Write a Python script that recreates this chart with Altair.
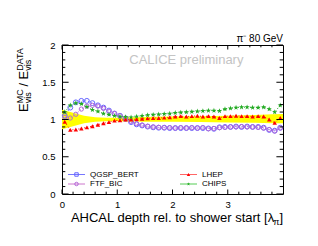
import altair as alt
import pandas as pd

FONT = "Liberation Sans"

# ---------------- data ----------------
x_pos = [0.05, 0.15, 0.25, 0.35, 0.45, 0.55, 0.65, 0.75, 0.85, 0.95,
         1.05, 1.15, 1.25, 1.35, 1.45, 1.55, 1.65, 1.75, 1.85, 1.95,
         2.05, 2.15, 2.25, 2.35, 2.45, 2.55, 2.65, 2.75, 2.85, 2.95,
         3.05, 3.15, 3.25, 3.35, 3.45, 3.55, 3.65, 3.75, 3.85, 3.95]

qgsp_bert = [1.05, 1.16, 1.23, 1.25, 1.25, 1.22, 1.19, 1.16, 1.12, 1.08,
             1.05, 1.01, 0.965, 0.935, 0.92, 0.905, 0.895, 0.89, 0.89, 0.885,
             0.885, 0.885, 0.885, 0.885, 0.885, 0.885, 0.88, 0.875, 0.895, 0.90,
             0.90, 0.905, 0.90, 0.905, 0.90, 0.90, 0.89, 0.86, 0.85, 0.89]

ftf_bic = [1.03, 1.02, 1.07, 1.14, 1.18, 1.19, 1.18, 1.15, 1.11, 1.08,
           1.05, 1.02, 0.975, 0.945, 0.925, 0.91, 0.90, 0.895, 0.89, 0.89,
           0.885, 0.89, 0.885, 0.89, 0.885, 0.89, 0.875, 0.88, 0.89, 0.895,
           0.90, 0.90, 0.905, 0.90, 0.90, 0.895, 0.885, 0.865, 0.845, 0.885]

lhep = [0.97, 0.86, 0.865, 0.88, 0.895, 0.91, 0.93, 0.95, 0.965, 0.985,
        0.99, 1.00, 1.00, 1.005, 1.01, 1.015, 1.02, 1.02, 1.025, 1.03,
        1.04, 1.045, 1.04, 1.045, 1.05, 1.04, 1.045, 1.04, 1.02, 1.045,
        1.045, 1.05, 1.045, 1.045, 1.04, 1.045, 1.04, 1.00, 0.955, 1.02]

chips = [1.10, 1.19, 1.22, 1.21, 1.17, 1.13, 1.11, 1.08, 1.065, 1.05,
         1.04, 1.035, 1.03, 1.04, 1.05, 1.06, 1.065, 1.07, 1.075, 1.08,
         1.09, 1.095, 1.10, 1.105, 1.11, 1.115, 1.12, 1.12, 1.115, 1.14,
         1.15, 1.16, 1.165, 1.165, 1.16, 1.16, 1.165, 1.14, 1.10, 1.19]

band_x = [0.0, 0.1, 0.2, 0.3, 0.4, 0.5, 0.6, 0.8, 1.0, 1.5, 2.0, 2.5, 3.0, 3.5, 3.8, 4.0]
band_hi = [1.13, 1.11, 1.09, 1.07, 1.05, 1.04, 1.03, 1.025, 1.025, 1.035, 1.04, 1.045, 1.05, 1.06, 1.07, 1.075]
band_lo = [0.87, 0.89, 0.91, 0.93, 0.95, 0.96, 0.97, 0.975, 0.975, 0.97, 0.97, 0.965, 0.96, 0.955, 0.95, 0.95]

series_names = ["QGSP_BERT", "FTF_BIC", "LHEP", "CHIPS"]
series_values = [qgsp_bert, ftf_bic, lhep, chips]
marker_colors = ["#6666ff", "#b266d9", "#ff0000", "#22aa22"]
legend_line_colors = ["#7777ff", "#cc77cc", "#ff6666", "#55cc55"]

x_major = [0, 1, 2, 3]
x_minor = [0.2, 0.4, 0.6, 0.8, 1.2, 1.4, 1.6, 1.8, 2.2, 2.4, 2.6, 2.8, 3.2, 3.4, 3.6, 3.8]
y_major = [0, 0.5, 1, 1.5, 2]
y_minor = [0.1, 0.2, 0.3, 0.4, 0.6, 0.7, 0.8, 0.9, 1.1, 1.2, 1.3, 1.4, 1.6, 1.7, 1.8, 1.9]

# ---------------- layout ----------------
W, H = 221, 149
STAR = ("M0,-1L0.235,-0.324L0.951,-0.309L0.38,0.124L0.588,0.809L0,0.4"
        "L-0.588,0.809L-0.38,0.124L-0.951,-0.309L-0.235,-0.324Z")

xscale = alt.Scale(domain=[0, 4], nice=False, zero=False)
yscale = alt.Scale(domain=[0, 2], nice=False, zero=False)
xaxis = alt.Axis(values=x_major, format="~g", title=None, ticks=False, tickSize=0,
                 domain=False, grid=False, labelPadding=5, labelFontSize=9.5,
                 labelFont=FONT, labelColor="black", labelFlush=False, labelOverlap=False)
yaxis = alt.Axis(values=y_major, format="~g", title=None, ticks=False, tickSize=0,
                 domain=False, grid=False, labelPadding=7, labelFontSize=9.5,
                 labelFont=FONT, labelColor="black", labelFlush=False, labelOverlap=False)


def X(field="x"):
    return alt.X(f"{field}:Q", scale=xscale, axis=xaxis)


def Y(field="y"):
    return alt.Y(f"{field}:Q", scale=yscale, axis=yaxis)


layers = []

band_df = pd.DataFrame({"x": band_x, "lo": band_lo, "hi": band_hi})
layers.append(alt.Chart(band_df).mark_area(color="#ffff00", opacity=1)
              .encode(x=X(), y=Y("lo"), y2="hi:Q"))

shapes = ["circle", "circle", "triangle-up", STAR]
filled = [False, False, True, True]
sizes = [24, 18, 20, 30]
for name, vals, col, shp, fl, sz in zip(series_names, series_values, marker_colors, shapes, filled, sizes):
    df = pd.DataFrame({"x": x_pos, "y": vals, "s": name})
    base = alt.Chart(df).encode(x=X(), y=Y())
    layers.append(base.mark_line(color=col, strokeWidth=1, strokeDash=[1, 2]))
    if fl:
        layers.append(base.mark_point(shape=shp, filled=True, size=sz, color=col, opacity=1))
    else:
        layers.append(base.mark_point(shape=shp, filled=False, size=sz, color=col,
                                      strokeWidth=1, opacity=1))

# ---------------- ticks (ROOT style, inside the frame) ----------------
def tick_layer(vals, orient, length):
    if orient in ("left", "right"):
        df = pd.DataFrame({"y": vals})
        x0 = 0 if orient == "left" else W - length
        return alt.Chart(df).mark_rule(color="black", strokeWidth=1).encode(
            y=Y(), x=alt.value(x0), x2=alt.value(x0 + length))
    df = pd.DataFrame({"x": vals})
    y0 = H if orient == "bottom" else 0
    y1 = H - length if orient == "bottom" else length
    return alt.Chart(df).mark_rule(color="black", strokeWidth=1).encode(
        x=X(), y=alt.value(y0), y2=alt.value(y1))


for o in ("left", "right"):
    layers.append(tick_layer(y_major, o, 6.6))
    layers.append(tick_layer(y_minor, o, 3.3))
for o in ("bottom", "top"):
    layers.append(tick_layer(x_major, o, 4.5))
    layers.append(tick_layer(x_minor, o, 2.3))

# ---------------- legend ----------------
leg_pos = [(6, 129.5), (6, 139), (118, 129.5), (118, 139)]
leg_shapes = ["square", "circle", "triangle-up", STAR]
for name, lc, mc, shp, fl, (lx, ly) in zip(series_names, legend_line_colors, marker_colors,
                                           leg_shapes, filled, leg_pos):
    d = pd.DataFrame({"t": [name]})
    layers.append(alt.Chart(d).mark_rule(color=lc, strokeWidth=1).encode(
        x=alt.value(lx), x2=alt.value(lx + 17), y=alt.value(ly)))
    layers.append(alt.Chart(d).mark_point(shape=shp, filled=fl, size=12, color=mc,
                                          strokeWidth=1, opacity=1).encode(
        x=alt.value(lx + 8.5), y=alt.value(ly)))
    layers.append(alt.Chart(d).mark_text(align="left", baseline="middle", font=FONT,
                                         fontSize=8, color="black").encode(
        x=alt.value(lx + 22), y=alt.value(ly), text="t:N"))

# ---------------- texts ----------------
def txt(s, x, y, size, align="left", baseline="alphabetic", color="black", angle=0):
    d = pd.DataFrame({"t": [s]})
    kw = dict(align=align, baseline=baseline, font=FONT, fontSize=size, color=color)
    if angle:
        kw["angle"] = angle
    return alt.Chart(d).mark_text(**kw).encode(x=alt.value(x), y=alt.value(y), text="t:N")


layers.append(txt("CALICE preliminary", 67.3, 19, 13, color="#c4c4c4"))
layers.append(txt("\u03c0\u207b 80 GeV", W, -3, 10, align="right"))

# x title
TY = 176.5
layers.append(txt("]", W, TY, 13, align="right"))
layers.append(txt("\u03c0", W - 3.6, TY + 3, 9, align="right"))
layers.append(txt("AHCAL depth rel. to shower start [\u03bb", W - 8.8, TY, 13, align="right"))

# y title (rotated, reading upward)
bx = -34
layers.append(txt("E", bx, 67, 13, angle=270))
layers.append(txt("MC", bx - 5, 58.3, 9, angle=270))
layers.append(txt("vis", bx + 3, 58.3, 9, angle=270))
layers.append(txt("/", bx, 41.5, 13, angle=270))
layers.append(txt("E", bx, 34.5, 13, angle=270))
layers.append(txt("DATA", bx - 5, 25.8, 9, angle=270))
layers.append(txt("vis", bx + 3, 25.8, 9, angle=270))

chart = alt.layer(*layers).properties(
    width=W, height=H,
    padding={"left": 54, "top": 37, "right": 27, "bottom": 44},
    autosize=alt.AutoSizeParams(type="none"),
    background="white",
).configure_view(stroke="black", strokeWidth=1)

chart.save("out.html", embed_options={"renderer": "svg", "actions": False})
